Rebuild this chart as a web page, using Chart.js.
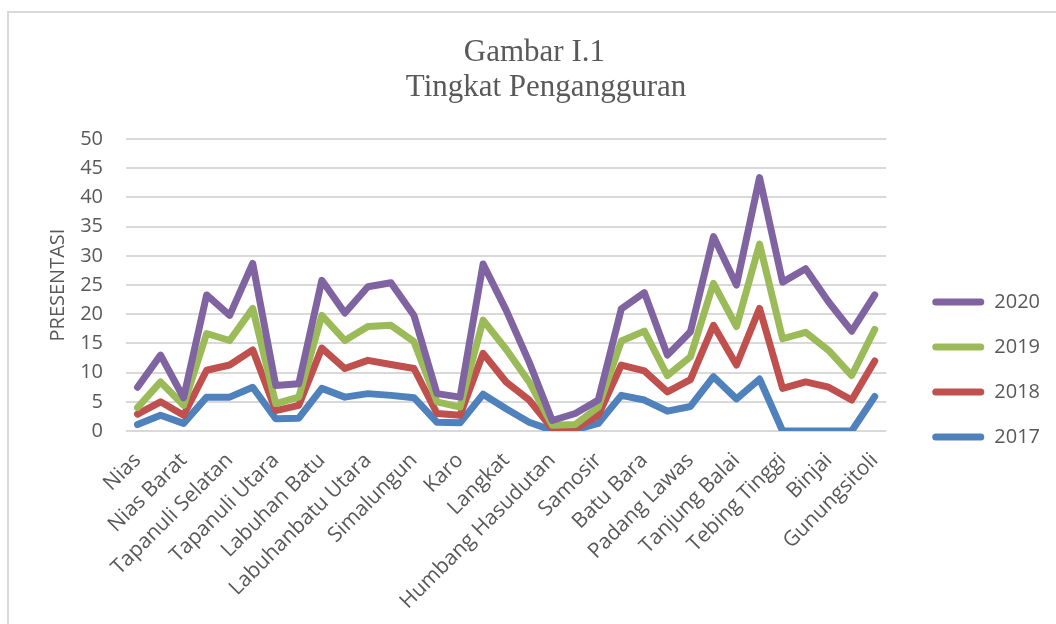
<!DOCTYPE html>
<html><head><meta charset="utf-8">
<script src="https://cdn.jsdelivr.net/npm/chart.js@4/dist/chart.umd.min.js"></script>
<style>
html,body{margin:0;padding:0;overflow:hidden;background:#fff;width:1056px;height:624px}
#frame{position:absolute;left:7px;top:11px;width:1200px;height:800px;border:2px solid #d9d9d9;box-sizing:border-box}
#wrap{position:absolute;left:0;top:0;width:1094px;height:624px}
</style></head><body>
<div id="frame"></div>
<div id="wrap"><canvas id="c" width="1094" height="624"></canvas></div>
<script>
// Categories: only every other label is legible in the picture; the rest are left blank.
const categories = ['Nias','','Nias Barat','','Tapanuli Selatan','','Tapanuli Utara','','Labuhan Batu','',
  'Labuhanbatu Utara','','Simalungun','','Karo','','Langkat','','Humbang Hasudutan','',
  'Samosir','','Batu Bara','','Padang Lawas','','Tanjung Balai','','Tebing Tinggi','',
  'Binjai','','Gunungsitoli'];
const yTickValues = [0,5,10,15,20,25,30,35,40,45,50];
const seriesNames = ['2020','2019','2018','2017'];
const values2020 = [7.5,13.0,5.7,23.3,19.8,28.7,7.8,8.1,25.8,20.2,24.7,25.4,19.8,6.4,5.8,28.6,20.7,11.8,1.8,3.0,5.3,20.9,23.7,13.0,17.0,33.3,25.0,43.4,25.5,27.8,22.1,17.1,23.3];
const values2019 = [4.0,8.4,4.4,16.7,15.5,21.0,4.7,5.8,19.8,15.5,17.9,18.1,15.3,5.0,4.1,19.0,14.0,8.4,1.0,1.1,4.1,15.4,17.1,9.5,12.7,25.3,17.9,32.0,15.8,16.9,13.8,9.5,17.4];
const values2018 = [2.9,5.0,2.7,10.4,11.3,13.9,3.5,4.4,14.2,10.7,12.1,11.4,10.7,3.0,2.7,13.3,8.4,5.3,0.4,0.4,2.7,11.3,10.3,6.7,8.8,18.1,11.3,21.0,7.3,8.4,7.5,5.3,12.0];
const values2017 = [1.1,2.7,1.3,5.8,5.8,7.5,2.1,2.2,7.3,5.8,6.4,6.1,5.7,1.5,1.4,6.3,3.8,1.5,0.1,0.2,1.3,6.1,5.3,3.4,4.2,9.3,5.5,8.9,0,0,0,0,5.9];

const seriesValues = [values2020, values2019, values2018, values2017];
const seriesColors = ['#8064A2','#9BBB59','#C0504D','#4F81BD'];
const textColor = '#595959';
const sans = "'Open Sans', sans-serif";

const datasets = seriesNames.map((name, i) => ({
  label: name,
  data: seriesValues[i],
  borderColor: seriesColors[i],
  backgroundColor: seriesColors[i],
  borderWidth: 7,
  tension: 0,
  borderCapStyle: 'round',
  borderJoinStyle: 'round',
  pointRadius: 0,
  fill: false
}));

new Chart(document.getElementById('c'), {
  type: 'line',
  data: { labels: categories, datasets },
  options: {
    responsive: false,
    animation: false,
    layout: { padding: { left: 42, right: 44, top: 0, bottom: 0 } },
    plugins: {
      title: {
        display: true,
        text: ['Gambar I.1   ', 'Tingkat Pengangguran'],
        color: textColor,
        font: { family: "'Liberation Serif', serif", size: 31, weight: 'normal', lineHeight: 1.13 },
        padding: { top: 35, bottom: 34 }
      },
      legend: {
        position: 'right',
        title: { display: true, text: ' ', font: { size: 10, lineHeight: 1 }, padding: { top: 105, bottom: 0 } },
        labels: {
          boxWidth: 52, boxHeight: 7, useBorderRadius: true, borderRadius: 3.5,
          padding: 25, color: textColor, font: { family: sans, size: 20 },
          generateLabels(chart) {
            const items = Chart.defaults.plugins.legend.labels.generateLabels(chart);
            items.forEach(it => { it.lineWidth = 0; it.fillStyle = it.strokeStyle; });
            return items;
          }
        }
      },
      tooltip: { enabled: false }
    },
    scales: {
      x: {
        offset: true,
        grid: { display: false, drawTicks: false },
        border: { display: false },
        ticks: { autoSkip: false, maxRotation: 45, minRotation: 45, padding: 17, color: textColor, font: { family: sans, size: 21 } },
        afterFit(s) { s.height = 193; }
      },
      y: {
        min: yTickValues[0], max: yTickValues[yTickValues.length - 1],
        ticks: { stepSize: 5, padding: 23, color: textColor, font: { family: sans, size: 20 } },
        afterBuildTicks(s) { s.ticks = yTickValues.map(v => ({ value: v })); },
        grid: { color: '#d9d9d9', lineWidth: 2, drawTicks: false },
        border: { display: false },
        title: { display: true, text: 'PRESENTASI', color: textColor, font: { family: sans, size: 20 }, padding: { top: 4, bottom: 10 } },
        afterFit(s) { s.width = 84; }
      },
      y2: {
        position: 'right',
        grid: { display: false, drawTicks: false },
        border: { display: false },
        ticks: { display: false },
        afterFit(s) { s.width = 21; }
      }
    }
  }
});
</script>
</body></html>
